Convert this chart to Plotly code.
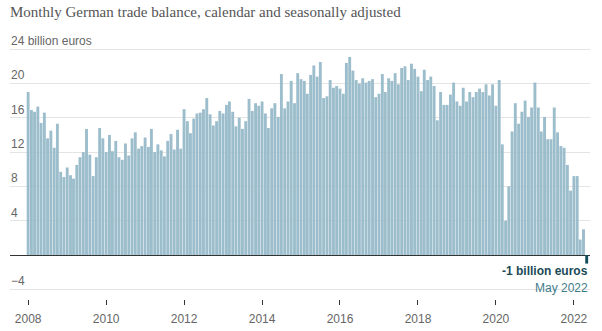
import pandas as pd
import plotly.graph_objects as go

# ---- data (billion euros, calendar and seasonally adjusted) ----
start_month = "2008-01-01"
values_2008 = [19.0, 16.9, 16.7, 17.3, 15.4, 16.6, 13.6, 14.5, 12.5, 15.3, 9.7, 9.1]
values_2009 = [10.2, 9.3, 8.9, 10.5, 11.4, 12.0, 14.7, 11.7, 9.2, 11.4, 14.8, 13.6]
values_2010 = [12.0, 14.0, 12.1, 13.3, 11.4, 11.1, 13.0, 11.6, 13.6, 14.3, 12.4, 12.7]
values_2011 = [13.7, 12.6, 14.7, 12.0, 12.9, 12.2, 11.5, 13.3, 14.1, 12.3, 14.6, 12.4]
values_2012 = [17.0, 15.6, 14.2, 15.9, 16.5, 16.6, 17.0, 18.3, 16.4, 15.1, 15.6, 16.8]
values_2013 = [16.5, 17.5, 17.9, 16.7, 15.0, 16.0, 14.7, 15.6, 18.2, 16.8, 17.7, 17.4]
values_2014 = [17.9, 16.5, 14.8, 17.1, 17.7, 16.1, 21.1, 17.1, 17.9, 20.3, 17.7, 21.2]
values_2015 = [20.5, 20.3, 18.8, 21.0, 22.1, 20.8, 22.5, 18.3, 18.5, 20.4, 19.5, 19.7]
values_2016 = [19.4, 18.8, 22.4, 23.1, 21.5, 20.4, 20.0, 20.6, 20.1, 20.3, 20.5, 18.4]
values_2017 = [18.8, 21.1, 19.0, 20.6, 20.3, 21.2, 19.9, 21.8, 22.0, 20.4, 22.3, 21.7]
values_2018 = [20.8, 19.1, 21.6, 20.4, 20.8, 19.7, 15.7, 19.0, 17.5, 17.5, 18.7, 20.1]
values_2019 = [17.9, 17.4, 19.5, 17.9, 19.0, 18.4, 19.0, 19.4, 19.0, 19.9, 18.6, 19.9]
values_2020 = [17.4, 20.4, 12.9, 4.0, 8.0, 14.4, 17.7, 15.3, 16.7, 18.0, 16.1, 17.2]
values_2021 = [20.1, 17.2, 14.4, 16.1, 13.5, 13.5, 17.2, 14.3, 12.7, 12.5, 10.5, 7.5]
values_2022 = [9.2, 9.2, 1.8, 3.0, -1.0]

values = (values_2008 + values_2009 + values_2010 + values_2011 + values_2012
          + values_2013 + values_2014 + values_2015 + values_2016 + values_2017
          + values_2018 + values_2019 + values_2020 + values_2021 + values_2022)
months = pd.date_range(start_month, periods=len(values), freq="MS")

y_tickvals = [-4, 4, 8, 12, 16, 20, 24]
y_ticktext = ["\u22124", "4", "8", "12", "16", "20", "24 billion euros"]
x_tickyears = [2008, 2010, 2012, 2014, 2016, 2018, 2020, 2022]

latest_label = "-1 billion euros"
latest_month_label = "May 2022"

# ---- styling ----
BAR = "#9cbdcb"
LATEST = "#0f4b58"
GRID = "#e4e4e4"
TEXT = "#666666"
SANS = "Liberation Sans, Arial, sans-serif"

colors = [BAR] * (len(values) - 1) + [LATEST]
x_range = ["2007-07-15", "2022-06-01"]

fig = go.Figure()
fig.add_trace(go.Bar(
    x=months, y=values,
    marker=dict(color=colors, line=dict(width=0)),
    width=27 * 24 * 3600 * 1000,
    hoverinfo="x+y",
))

H = 331
fig.update_layout(
    width=602, height=H,
    margin=dict(l=10, r=12, t=32, b=H - 299, autoexpand=False),
    paper_bgcolor="white", plot_bgcolor="white",
    showlegend=False,
    title=dict(
        text="Monthly German trade balance, calendar and seasonally adjusted",
        x=10 / 602, xanchor="left", xref="container",
        y=1 - 12 / H, yanchor="middle", yref="container",
        font=dict(family="Liberation Serif, DejaVu Serif, serif", size=15, color="#555555"),
    ),
    font=dict(family=SANS, size=12, color=TEXT),
)

fig.update_yaxes(
    range=[-5.13, 26.0],
    tickvals=y_tickvals, showticklabels=False,
    showgrid=True, gridcolor=GRID, gridwidth=1,
    zeroline=True, zerolinecolor="#333333", zerolinewidth=1,
    showline=False, ticks="",
    fixedrange=True,
)

fig.update_xaxes(
    type="date", range=x_range,
    tickvals=[f"{y}-01-01" for y in x_tickyears],
    ticktext=[str(y) for y in x_tickyears],
    ticks="outside", ticklen=5, tickwidth=1, tickcolor="#333333",
    ticklabelstandoff=4,
    showgrid=False, showline=False, zeroline=False,
    tickfont=dict(family=SANS, size=12, color=TEXT),
    fixedrange=True,
)

# y labels sit just above their gridlines, flush with the left edge
for val, txt in zip(y_tickvals, y_ticktext):
    fig.add_annotation(
        x=0, xref="paper", y=val, yref="y", text=txt, showarrow=False,
        xanchor="left", yanchor="bottom", xshift=0, yshift=0,
        borderpad=0, font=dict(family=SANS, size=12, color=TEXT),
    )

fig.add_annotation(
    x=1, xref="paper", y=-1.9, yref="y",
    text=f"<b>{latest_label}</b>", showarrow=False,
    xanchor="right", yanchor="middle",
    font=dict(family=SANS, size=12, color="#1b4a57"),
)
fig.add_annotation(
    x=1, xref="paper", y=-3.8, yref="y",
    text=latest_month_label, showarrow=False,
    xanchor="right", yanchor="middle",
    font=dict(family=SANS, size=12, color="#3f7d8c"),
)

fig.write_html("out.html")
